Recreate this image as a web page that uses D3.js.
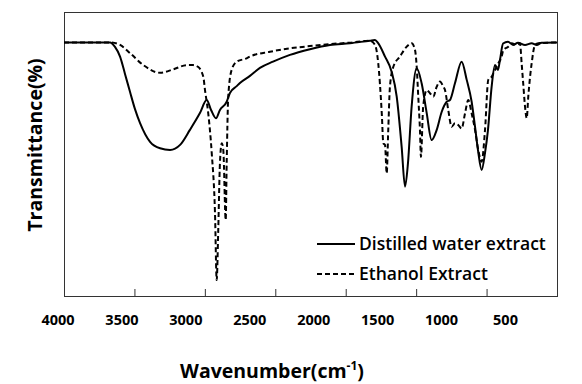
<!DOCTYPE html>
<html>
<head>
<meta charset="utf-8">
<script src="https://cdn.jsdelivr.net/npm/d3@7"></script>
<style>
  html, body { margin: 0; padding: 0; background: #fff; }
  svg { display: block; }
  text { font-family: "Open Sans", "Noto Sans", sans-serif; fill: #000; }
</style>
</head>
<body>
<svg id="chart" width="582" height="384"></svg>
<script>
// FT-IR spectra: [wavenumber (cm-1), transmittance (%)]
const waterExtract = [
  [4000, 89.3], [3815, 89.3], [3673, 89.3], [3638, 87.7], [3602, 84.3], [3567, 78.2],
  [3531, 71.8], [3496, 65.8], [3460, 60.9], [3389, 54.3], [3318, 52.0], [3247, 51.4],
  [3176, 53.2], [3106, 58.5], [3035, 64.4], [2987, 69.0], [2956, 65.5], [2921, 62.6],
  [2893, 65.5], [2845, 68.4], [2822, 71.5], [2774, 73.9], [2751, 75.0], [2680, 77.5],
  [2609, 80.3], [2516, 82.5], [2396, 84.9], [2254, 86.9], [2112, 88.4], [1970, 89.0],
  [1828, 89.9], [1792, 90.1], [1771, 89.1], [1721, 84.3], [1674, 79.0], [1638, 70.2],
  [1603, 52.6], [1579, 38.5], [1558, 46.8], [1532, 66.7], [1496, 80.2], [1461, 74.9],
  [1425, 64.4], [1390, 54.9], [1354, 58.5], [1319, 64.8], [1283, 68.4], [1260, 69.0],
  [1224, 75.0], [1177, 82.5], [1141, 76.1], [1106, 68.4], [1082, 59.6], [1061, 51.4],
  [1035, 44.4], [1011, 50.4], [990, 58.5], [964, 73.7], [940, 81.3], [919, 79.6],
  [905, 83.1], [883, 88.9], [848, 89.5], [812, 88.4], [777, 89.2], [727, 88.4],
  [680, 89.0], [644, 88.4], [609, 89.2], [500, 89.3]
];

const ethanolExtract = [
  [4000, 89.3], [3673, 89.3], [3602, 88.4], [3531, 85.5], [3437, 81.3], [3318, 78.6],
  [3224, 79.8], [3129, 81.3], [3082, 81.3], [3049, 80.7], [3011, 77.2], [2999, 72.5],
  [2976, 64.3], [2951, 50.2], [2928, 29.2], [2916, 5.6], [2905, 23.2], [2893, 46.7],
  [2880, 53.8], [2869, 51.4], [2852, 26.8], [2845, 46.8], [2834, 70.2], [2810, 79.6],
  [2774, 82.5], [2703, 83.7], [2680, 84.3], [2538, 86.0], [2396, 87.2], [2254, 88.0],
  [2112, 88.7], [1970, 89.2], [1828, 89.9], [1792, 88.4], [1769, 81.9], [1744, 64.3],
  [1733, 53.8], [1721, 53.2], [1709, 43.2], [1698, 58.5], [1686, 73.7], [1662, 80.7],
  [1615, 84.3], [1567, 87.8], [1532, 89.0], [1508, 86.6], [1496, 80.7], [1485, 70.2],
  [1473, 58.5], [1466, 49.0], [1450, 66.7], [1425, 72.5], [1402, 71.4], [1378, 70.2],
  [1354, 73.7], [1331, 75.5], [1307, 73.7], [1295, 72.5], [1272, 65.5], [1248, 59.6],
  [1224, 60.8], [1201, 60.2], [1177, 59.0], [1153, 64.3], [1130, 69.0], [1106, 64.3],
  [1082, 58.5], [1059, 51.4], [1035, 47.3], [1011, 58.5], [988, 76.1], [964, 77.2],
  [940, 79.6], [917, 81.9], [893, 84.3], [881, 86.6], [846, 87.8], [822, 89.0],
  [786, 88.4], [763, 89.0], [751, 81.9], [740, 74.9], [727, 66.7], [715, 62.6],
  [704, 70.2], [680, 81.9], [656, 88.4], [633, 89.0], [500, 89.3]
];

const xTicks = [4000, 3500, 3000, 2500, 2000, 1500, 1000, 500];
const seriesNames = ["Distilled water extract", "Ethanol Extract"];

const svg = d3.select("#chart");
const plot = { left: 64, right: 557, top: 12, bottom: 296 };

const x = d3.scaleLinear().domain([4000, 500]).range([plot.left, plot.right]);
const y = d3.scaleLinear().domain([0, 100]).range([plot.bottom, plot.top]);
// tick labels sit on their own, slightly narrower spacing
const xLabel = d3.scaleLinear().domain([4000, 500]).range([57.5, 505]);

// inward tick marks on the bottom edge
svg.append("g")
  .attr("transform", `translate(0,${plot.bottom})`)
  .call(d3.axisBottom(x).tickValues(xTicks.slice(1, -1)).tickSize(-7).tickFormat(""))
  .call(g => g.select(".domain").remove())
  .call(g => g.selectAll("line").attr("stroke", "#333").attr("stroke-width", 1));

// tick labels
svg.append("g")
  .attr("transform", `translate(0,${plot.bottom})`)
  .call(d3.axisBottom(xLabel).tickValues(xTicks).tickSize(0).tickPadding(19).tickFormat(d3.format("d")))
  .call(g => g.select(".domain").remove())
  .call(g => g.selectAll("text")
    .attr("font-family", "'Open Sans', sans-serif")
    .attr("font-size", 14.5).attr("font-weight", 700).attr("fill", "#000"));

// frame
svg.append("rect")
  .attr("x", plot.left + 0.5).attr("y", plot.top + 0.5)
  .attr("width", plot.right - plot.left).attr("height", plot.bottom - plot.top)
  .attr("fill", "none").attr("stroke", "#333").attr("stroke-width", 1);

const line = d3.line().x(d => x(d[0])).y(d => y(d[1])).curve(d3.curveMonotoneX);

svg.append("path").datum(waterExtract)
  .attr("d", line).attr("fill", "none")
  .attr("stroke", "#000").attr("stroke-width", 2).attr("stroke-linejoin", "round");

svg.append("path").datum(ethanolExtract)
  .attr("d", line).attr("fill", "none")
  .attr("stroke", "#000").attr("stroke-width", 2).attr("stroke-dasharray", "5,3");

// legend
const legend = svg.append("g").attr("transform", "translate(317,244)");
seriesNames.forEach((name, i) => {
  const g = legend.append("g").attr("transform", `translate(0,${i * 30})`);
  g.append("line").attr("x1", 0).attr("x2", 38).attr("y1", 0).attr("y2", 0)
    .attr("stroke", "#000").attr("stroke-width", 2)
    .attr("stroke-dasharray", i === 1 ? "5,3" : null);
  g.append("text").attr("x", 42).attr("y", 0).attr("dy", "0.35em")
    .attr("font-size", 17.5).attr("font-weight", 600).text(name);
});

// axis titles
svg.append("text")
  .attr("x", 272).attr("y", 378).attr("text-anchor", "middle")
  .attr("font-size", 19.5).attr("font-weight", 700)
  .text("Wavenumber(cm")
  .append("tspan").attr("dy", -8).attr("font-size", 12).text("-1")
  .select(function () { return this.parentNode; })
  .append("tspan").attr("dy", 8).text(")");

svg.append("text")
  .attr("transform", "translate(42,145) rotate(-90)")
  .attr("text-anchor", "middle")
  .attr("font-size", 19.5).attr("font-weight", 700)
  .text("Transmittance(%)");
</script>
</body>
</html>
